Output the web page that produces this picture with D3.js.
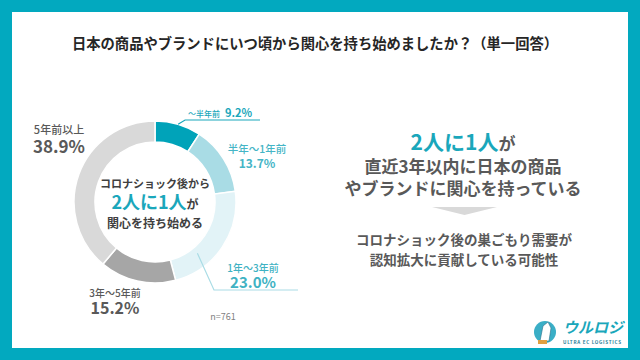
<!DOCTYPE html>
<html>
<head>
<meta charset="utf-8">
<script src="https://cdn.jsdelivr.net/npm/d3@7"></script>
<style>
  html, body { margin: 0; padding: 0; background: #fff; }
  svg { display: block; font-family: "Noto Sans CJK JP", "Noto Sans", sans-serif; }
</style>
</head>
<body>
<div id="chart"></div>
<script>
// data
const categories = ["～半年前", "半年～1年前", "1年～3年前", "3年～5年前", "5年前以上"];
const values = [9.2, 13.7, 23.0, 15.2, 38.9];
const sampleSize = 761;
const title = "日本の商品やブランドにいつ頃から関心を持ち始めましたか？（単一回答）";

const width = 640;
const height = 360;
const teal = "#02a9bf";
const colors = ["#00a3b9", "#a9dce5", "#e2f3f7", "#a6a6a6", "#d9d9d9"];
const cx = 155, cy = 202;
const outerR = 81, innerR = 60;

// label placement per slice (relative to donut centre)
const labelLayout = [
  { inline: true, dx: 65, dy: -89, color: "#1aa7bb" },
  { dx: 102, dy: -49, nameSize: 10.5, valueSize: 12, gap: 15, color: "#45b5c6" },
  { dx: 98, dy: 70, nameSize: 10, valueSize: 15, gap: 16, color: "#3fb2c3" },
  { dx: -40, dy: 95, nameSize: 10, valueSize: 16, gap: 17, color: "#595959" },
  { dx: -96, dy: -68, nameSize: 11, valueSize: 17, gap: 19, color: "#595959" }
];

const svg = d3.select("#chart").append("svg")
    .attr("width", width)
    .attr("height", height)
    .attr("viewBox", [0, 0, width, height]);

// frame
svg.append("rect").attr("width", width).attr("height", height).attr("fill", teal);
svg.append("rect")
    .attr("x", 12).attr("y", 12)
    .attr("width", width - 24).attr("height", 336)
    .attr("fill", "#fff");

svg.append("text")
    .attr("x", 315).attr("y", 49)
    .attr("text-anchor", "middle")
    .attr("font-size", 14.3)
    .attr("font-weight", 700)
    .attr("fill", "#262626")
    .text(title);

// donut
const pie = d3.pie().sort(null).value(d => d)(values);
const arc = d3.arc().innerRadius(innerR).outerRadius(outerR);

const donut = svg.append("g").attr("transform", `translate(${cx},${cy})`);
donut.selectAll("path")
    .data(pie)
    .enter().append("path")
      .attr("d", arc)
      .attr("fill", (d, i) => colors[i])
      .attr("stroke", "#fff")
      .attr("stroke-width", 1.5);

// leader lines
const line = d3.line();
const p0 = d3.arc().innerRadius(outerR).outerRadius(outerR).centroid(pie[0]);
donut.append("path")
    .attr("d", line([p0, [p0[0] + 7, -82], [105, -82]]))
    .attr("fill", "none").attr("stroke", "#1aa7bb").attr("stroke-width", 1.2);
const a2 = pie[2].startAngle + (pie[2].endAngle - pie[2].startAngle) * 0.7;
const r2 = (innerR + outerR) / 2 - 4;
const p2 = [r2 * Math.sin(a2), -r2 * Math.cos(a2)];
donut.append("path")
    .attr("d", line([p2, [59, 88], [143, 88]]))
    .attr("fill", "none").attr("stroke", "#a9dce5").attr("stroke-width", 1.2);

// slice labels
labelLayout.forEach((l, i) => {
  const g = donut.append("g").attr("transform", `translate(${l.dx},${l.dy})`);
  if (l.inline) {
    const t = g.append("text").attr("text-anchor", "middle").attr("fill", l.color).attr("y", 4);
    t.append("tspan").attr("font-size", 8).attr("font-weight", 500).text(categories[i]);
    t.append("tspan").attr("font-size", 11).attr("font-weight", 700).attr("dx", 5).text(values[i].toFixed(1) + "%");
  } else {
    g.append("text").attr("text-anchor", "middle").attr("fill", l.color)
      .attr("font-size", l.nameSize).attr("font-weight", 500).attr("y", 0).text(categories[i]);
    g.append("text").attr("text-anchor", "middle").attr("fill", l.color)
      .attr("font-size", l.valueSize).attr("font-weight", 700)
      .attr("y", l.gap).text(values[i].toFixed(1) + "%");
  }
});

// centre text
const centre = donut.append("g").attr("fill", "#404040").attr("font-weight", 700).attr("text-anchor", "middle");
centre.append("text").attr("y", -14).attr("font-size", 11).text("コロナショック後から");
const mid = centre.append("text").attr("y", 7);
mid.append("tspan").attr("fill", "#1aa7bb").attr("font-size", 18).text("2人に1人");
mid.append("tspan").attr("font-size", 12).text("が");
centre.append("text").attr("y", 26).attr("font-size", 12).text("関心を持ち始める");

svg.append("text")
    .attr("x", 223).attr("y", 320)
    .attr("text-anchor", "middle")
    .attr("font-size", 9)
    .attr("fill", "#7f7f7f")
    .text("n=" + sampleSize);

// right message
const msg = svg.append("g").attr("text-anchor", "middle").attr("font-weight", 700);
const m1 = msg.append("text").attr("x", 463).attr("y", 150);
m1.append("tspan").attr("fill", "#1aa7bb").attr("font-size", 21).text("2人に1人");
m1.append("tspan").attr("fill", "#595959").attr("font-size", 17).text("が");
msg.append("text").attr("x", 463).attr("y", 173).attr("font-size", 17).attr("fill", "#595959").text("直近3年以内に日本の商品");
msg.append("text").attr("x", 463).attr("y", 195).attr("font-size", 17).attr("fill", "#595959").text("やブランドに関心を持っている");
svg.append("path")
    .attr("d", line([[432, 207], [497, 207], [464.5, 215]]) + "Z")
    .attr("fill", "#d9d9d9");
msg.append("text").attr("x", 464).attr("y", 245).attr("font-size", 13.5).attr("fill", "#595959").text("コロナショック後の巣ごもり需要が");
msg.append("text").attr("x", 464).attr("y", 265).attr("font-size", 13.5).attr("fill", "#595959").text("認知拡大に貢献している可能性");

// logo
const logo = svg.append("g");
logo.append("circle").attr("cx", 545).attr("cy", 332).attr("r", 11).attr("fill", "#3aaec6");
logo.append("path")
    .attr("d", "M540,341 L543,326 L548,322 L551,328 L549,341 Z")
    .attr("fill", "#fff").attr("stroke", "#2a6f8a").attr("stroke-width", 0.6);
logo.append("rect").attr("x", 538).attr("y", 340).attr("width", 9).attr("height", 4).attr("fill", "#e0a040");
logo.append("text")
    .attr("x", 563).attr("y", 333)
    .attr("font-size", 15).attr("font-weight", 700).attr("font-style", "italic")
    .attr("fill", "#1aa7bb")
    .text("ウルロジ");
logo.append("text")
    .attr("x", 563).attr("y", 344)
    .attr("font-size", 4.6).attr("font-weight", 700)
    .attr("fill", "#2a7f9a")
    .attr("textLength", 58)
    .text("ULTRA EC LOGISTICS");
</script>
</body>
</html>
